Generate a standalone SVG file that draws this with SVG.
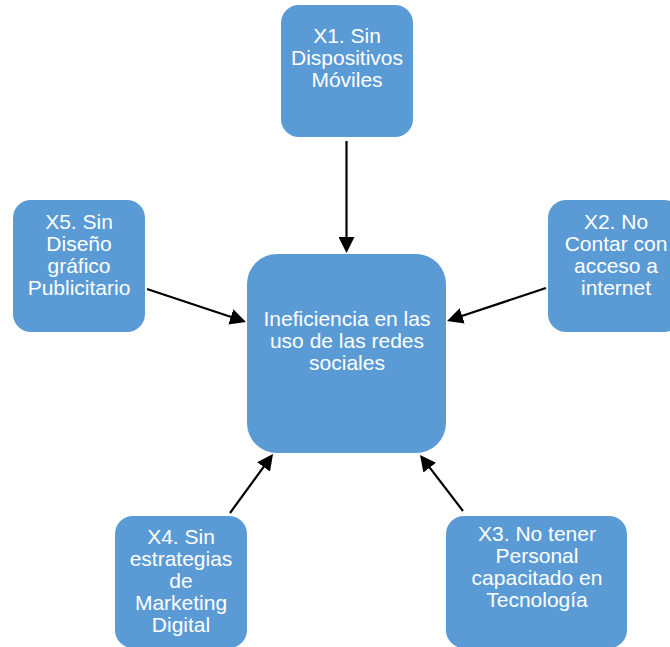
<svg xmlns="http://www.w3.org/2000/svg" width="670" height="647" viewBox="0 0 670 647">
  <style>
    .box { fill: #5B9BD5; }
    .lbl { fill: #FFFFFF; font-family: "Liberation Sans", Arial, sans-serif; font-size: 21px; text-anchor: middle; }
    .conn { stroke: #000000; stroke-width: 2.2; fill: none; marker-end: url(#arrow); }
  </style>
  <defs>
    <marker id="arrow" markerUnits="userSpaceOnUse" markerWidth="16" markerHeight="16" viewBox="0 0 16 16" refX="6" refY="8" orient="auto">
      <path d="M0,0 L16,8 L0,16 Z" fill="#000000"/>
    </marker>
  </defs>
  <rect width="670" height="647" fill="#FFFFFF"/>

  <g id="connectors">
    <line class="conn" x1="346.5" y1="141" x2="346.5" y2="243"/>
    <line class="conn" x1="546" y1="288" x2="456.5" y2="317.8"/>
    <line class="conn" x1="147" y1="289" x2="236.5" y2="318.8"/>
    <line class="conn" x1="230" y1="513" x2="267.1" y2="462.1"/>
    <line class="conn" x1="463" y1="511" x2="426.1" y2="462.9"/>
  </g>

  <g id="center">
    <rect class="box" x="247" y="254" width="199" height="199" rx="30"/>
    <text class="lbl" x="347" y="326">Ineficiencia en las</text>
    <text class="lbl" x="347" y="348">uso de las redes</text>
    <text class="lbl" x="347" y="370">sociales</text>
  </g>

  <g id="x1">
    <rect class="box" x="281" y="5" width="132" height="132" rx="18"/>
    <text class="lbl" x="347" y="43">X1. Sin</text>
    <text class="lbl" x="347" y="65">Dispositivos</text>
    <text class="lbl" x="347" y="87">Móviles</text>
  </g>

  <g id="x2">
    <rect class="box" x="548" y="200" width="134" height="132" rx="18"/>
    <text class="lbl" x="616" y="229">X2. No</text>
    <text class="lbl" x="616" y="251">Contar con</text>
    <text class="lbl" x="616" y="273">acceso a</text>
    <text class="lbl" x="616" y="295">internet</text>
  </g>

  <g id="x5">
    <rect class="box" x="13" y="200" width="132" height="132" rx="18"/>
    <text class="lbl" x="79" y="229">X5. Sin</text>
    <text class="lbl" x="79" y="251">Diseño</text>
    <text class="lbl" x="79" y="273">gráfico</text>
    <text class="lbl" x="79" y="295">Publicitario</text>
  </g>

  <g id="x4">
    <rect class="box" x="115" y="516" width="132" height="132" rx="18"/>
    <text class="lbl" x="181" y="544">X4. Sin</text>
    <text class="lbl" x="181" y="566">estrategias</text>
    <text class="lbl" x="181" y="588">de</text>
    <text class="lbl" x="181" y="610">Marketing</text>
    <text class="lbl" x="181" y="632">Digital</text>
  </g>

  <g id="x3">
    <rect class="box" x="446" y="516" width="181" height="132" rx="18"/>
    <text class="lbl" x="537" y="541">X3. No tener</text>
    <text class="lbl" x="537" y="563">Personal</text>
    <text class="lbl" x="537" y="585">capacitado en</text>
    <text class="lbl" x="537" y="607">Tecnología</text>
  </g>
</svg>
